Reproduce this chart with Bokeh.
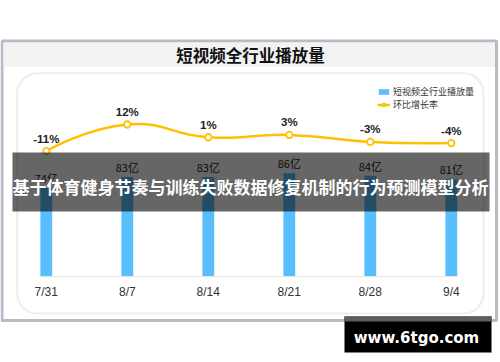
import numpy as np
from bokeh.plotting import figure
from bokeh.models import (Range1d, FixedTicker, BoxAnnotation, Label, LabelSet,
                          ColumnDataSource, Legend, LegendItem)
from bokeh.core.properties import value
from bokeh.embed import file_html
from bokeh.resources import INLINE

# ---------------- data ----------------
dates = ["7/31", "8/7", "8/14", "8/21", "8/28", "9/4"]
plays = [74, 83, 83, 86, 84, 81]          # 亿
rates = [-11, 12, 1, 3, -3, -4]           # %
chart_title = "短视频全行业播放量"
bar_name = "短视频全行业播放量"
line_name = "环比增长率"
banner_text = "基于体育健身节奏与训练失败数据修复机制的行为预测模型分析"
watermark = "www.6tgo.com"

BLUE = "#58BEFE"
GOLD = "#FFC000"
CJK = "Noto Sans CJK SC"
BAR_W = 0.146

x = list(range(len(dates)))
src = ColumnDataSource(dict(
    x=x, plays=plays, rates=rates,
    play_lbl=[f"{v}亿" for v in plays],
    rate_lbl=[f"{r}%" for r in rates],
))

W, H = 500, 362
p = figure(width=W, height=H, output_backend="svg", toolbar_location=None,
           x_range=Range1d(-0.5654, 5.6074), y_range=Range1d(-71.667, 230.0),
           y_axis_location=None, min_border=0,
           min_border_left=0, min_border_right=0,
           min_border_top=0, min_border_bottom=0)
p.title.visible = False
p.extra_y_ranges = {"rate": Range1d(-193.172, 118.897)}
p.xgrid.visible = False
p.ygrid.visible = False
p.outline_line_color = None
p.background_fill_color = "white"
p.border_fill_color = "white"

ax = p.xaxis[0]
ax.fixed_location = 0
ax.bounds = (x[0] - BAR_W / 2, x[-1] + BAR_W / 2)
ax.ticker = FixedTicker(ticks=x)
ax.major_label_overrides = {i: d for i, d in zip(x, dates)}
ax.axis_line_color = "#E3E3E3"
ax.axis_line_width = 1
ax.major_tick_line_color = None
ax.minor_tick_line_color = None
ax.major_label_standoff = 3
ax.major_label_text_font = "Liberation Sans"
ax.major_label_text_font_size = "12px"
ax.major_label_text_color = "#333333"


def cbox(l, r, t, b, **kw):
    return BoxAnnotation(left=l, right=r, top=t, bottom=b,
                         left_units="canvas", right_units="canvas",
                         top_units="canvas", bottom_units="canvas", **kw)


# ---------------- decorations (canvas px) ----------------
p.add_layout(cbox(1.5, 496, 40.5, 320, fill_color="white", fill_alpha=1,
                  line_color="#B8BBC6", line_width=3, line_alpha=1, level="underlay"))
p.add_layout(cbox(3, 494.5, 42, 66.5, fill_color="#F3F3F3", fill_alpha=1,
                  line_color=None, level="underlay"))
p.add_layout(cbox(16.7, 483, 72.7, 313, fill_color="white", fill_alpha=1,
                  line_color="#EDEDED", line_width=2, line_alpha=1,
                  border_radius=20, level="underlay"))
p.add_layout(Label(x=250, y=54.5, x_units="canvas", y_units="canvas",
                   text=chart_title, text_align="center", text_baseline="middle",
                   text_font=CJK, text_font_style="bold", text_font_size="16.5px",
                   text_color="#111111"))

# ---------------- bars ----------------
bars = p.vbar(x="x", top="plays", bottom=0, width=BAR_W, source=src,
              fill_color=BLUE, line_color=None)

# ---------------- smoothed rate line (ECharts-like bezier) ----------------
xs = np.array(x, float)
ys = np.array(rates, float)
n = len(xs)
sxp, syp = 81.0, 1.16
smooth = 0.5
cin = [(xs[i], ys[i]) for i in range(n)]
cout = [(xs[i], ys[i]) for i in range(n)]
for i in range(1, n - 1):
    vx = xs[i + 1] - xs[i - 1]
    vy = ys[i + 1] - ys[i - 1]
    d0 = np.hypot((xs[i] - xs[i - 1]) * sxp, (ys[i] - ys[i - 1]) * syp)
    d1 = np.hypot((xs[i + 1] - xs[i]) * sxp, (ys[i + 1] - ys[i]) * syp)
    r1 = d1 / (d0 + d1)
    cout[i] = (xs[i] + vx * smooth * r1, ys[i] + vy * smooth * r1)
    cin[i] = (xs[i] - vx * smooth * (1 - r1), ys[i] - vy * smooth * (1 - r1))
bz = ColumnDataSource(dict(
    x0=xs[:-1], y0=ys[:-1], x1=xs[1:], y1=ys[1:],
    cx0=[c[0] for c in cout[:-1]], cy0=[c[1] for c in cout[:-1]],
    cx1=[c[0] for c in cin[1:]], cy1=[c[1] for c in cin[1:]],
))
curve = p.bezier(x0="x0", y0="y0", x1="x1", y1="y1", cx0="cx0", cy0="cy0",
                 cx1="cx1", cy1="cy1", source=bz, y_range_name="rate",
                 line_color=GOLD, line_width=2.5)
dots = p.scatter(x="x", y="rates", source=src, y_range_name="rate",
                 marker="circle", size=6.5, fill_color="white",
                 line_color=GOLD, line_width=1.8)

# ---------------- data labels ----------------
p.add_layout(LabelSet(x="x", y="plays", text="play_lbl", source=src, y_offset=10,
                      text_align="center", text_baseline="middle",
                      text_font=value(CJK), text_font_size="11px",
                      text_color="#222222"))
p.add_layout(LabelSet(x="x", y="rates", text="rate_lbl", source=src,
                      y_range_name="rate", y_offset=12.5,
                      text_align="center", text_baseline="middle",
                      text_font=value("Liberation Sans"), text_font_style="bold",
                      text_font_size="11.5px", text_color="#222222"))

# ---------------- legend ----------------
legend = Legend(items=[LegendItem(label=bar_name, renderers=[bars]),
                       LegendItem(label=line_name, renderers=[curve, dots])],
                location=(377, 251.5), orientation="vertical",
                glyph_width=13, glyph_height=7, label_height=7,
                label_standoff=3, spacing=0, padding=0, margin=0,
                background_fill_alpha=0, border_line_color=None,
                label_text_font=CJK, label_text_font_size="9px",
                label_text_color="#333333")
p.add_layout(legend)

# ---------------- banner + watermark (overlay) ----------------
p.add_layout(cbox(12, 489, 152, 211, fill_color="black", fill_alpha=0.6,
                  line_color=None, level="overlay"))
p.add_layout(Label(x=250, y=185.5, x_units="canvas", y_units="canvas",
                   text=banner_text, text_align="center", text_baseline="middle",
                   text_font=CJK, text_font_style="bold", text_font_size="17px",
                   text_color="white", level="overlay"))
p.add_layout(cbox(344, 491, 316, 352, fill_color="black", fill_alpha=1,
                  line_color=None, level="overlay"))
p.add_layout(cbox(344, 491, 316, 321, fill_color="#5E5E5E", fill_alpha=1,
                  line_color=None, level="overlay"))
p.add_layout(Label(x=416, y=337, x_units="canvas", y_units="canvas",
                   text=watermark, text_align="center", text_baseline="middle",
                   text_font="DejaVu Sans", text_font_style="bold",
                   text_font_size="15px", text_color="white", level="overlay"))

open("out.html", "w").write(file_html(p, INLINE))
